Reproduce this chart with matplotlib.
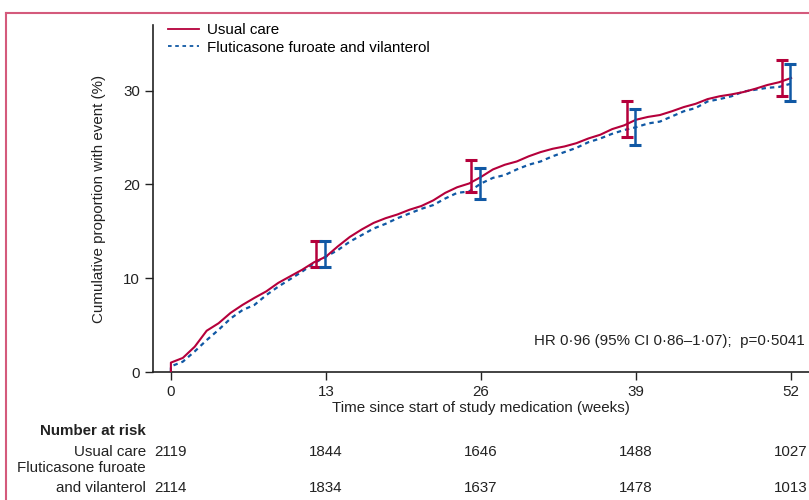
import matplotlib
matplotlib.use("Agg")
import matplotlib.pyplot as plt
import matplotlib.transforms as mtransforms
from matplotlib.lines import Line2D
from matplotlib import font_manager

# ---------------- data ----------------
weeks = [0] + list(range(0, 53))
usual_care = [0.0, 1.0, 1.5, 2.7, 4.4, 5.2, 6.3, 7.15, 7.9, 8.6, 9.5,
              10.2, 10.9, 11.7, 12.3, 13.4, 14.4, 15.2, 15.9, 16.4, 16.8,
              17.3, 17.7, 18.3, 19.1, 19.7, 20.1, 20.8, 21.6, 22.1, 22.45,
              23.0, 23.45, 23.8, 24.05, 24.4, 24.9, 25.3, 25.9, 26.3, 26.9,
              27.2, 27.4, 27.8, 28.25, 28.6, 29.1, 29.4, 29.6, 29.85, 30.2,
              30.6, 30.9, 31.35]
ff_vi = [0.0, 0.6, 1.1, 2.2, 3.4, 4.5, 5.7, 6.6, 7.15, 8.2, 9.1,
         9.9, 10.7, 11.6, 12.3, 13.0, 13.9, 14.6, 15.3, 15.8, 16.4,
         16.9, 17.4, 17.8, 18.5, 19.1, 19.25, 20.1, 20.7, 21.0, 21.6,
         22.1, 22.45, 23.0, 23.45, 23.9, 24.5, 24.9, 25.4, 25.8, 26.1,
         26.5, 26.7, 27.25, 27.8, 28.15, 28.85, 29.1, 29.4, 29.9, 30.1,
         30.3, 30.4, 30.75]

ci_weeks = [13, 26, 39, 52]
uc_ci_low = [11.2, 19.2, 25.1, 29.4]
uc_ci_high = [14.0, 22.6, 28.9, 33.3]
ff_ci_low = [11.2, 18.4, 24.2, 28.9]
ff_ci_high = [14.0, 21.8, 28.0, 32.8]

xticks = [0, 13, 26, 39, 52]
yticks = [0, 10, 20, 30]
risk_uc = ["2119", "1844", "1646", "1488", "1027"]
risk_ff = ["2114", "1834", "1637", "1478", "1013"]

series_names = ["Usual care", "Fluticasone furoate and vilanterol"]
hr_text = "HR 0\u00b796 (95% CI 0\u00b786\u20131\u00b707);  p=0\u00b75041"

# ---------------- style ----------------
avail = {f.name for f in font_manager.fontManager.ttflist}
fam = ["Liberation Sans Narrow", "DejaVu Sans"] if "Liberation Sans Narrow" in avail else ["Liberation Sans", "DejaVu Sans"]
plt.rcParams["font.family"] = fam
FS = 10.9
plt.rcParams["font.size"] = FS

RED = "#b5003b"
BLUE = "#1058a4"
FRAME = "#d45a7c"
TXT = "#222222"

fig = plt.figure(figsize=(8.09, 5.0), dpi=100)
ax = fig.add_axes([153 / 809, 1 - 372 / 500, 1 - 153 / 809, (372 - 25) / 500])

ax.plot(weeks, usual_care, color=RED, lw=1.5, label=series_names[0], zorder=3)
ax.plot(weeks, ff_vi, color=BLUE, lw=1.6, ls=(0, (2.0, 1.8)), label=series_names[1], zorder=2)

def ci_center(lo, hi):
    return [(a + b) / 2 for a, b in zip(lo, hi)]

uc_c = ci_center(uc_ci_low, uc_ci_high)
ff_c = ci_center(ff_ci_low, ff_ci_high)
ax.errorbar([w - 0.8 for w in ci_weeks], uc_c,
            yerr=[[c - l for c, l in zip(uc_c, uc_ci_low)], [h - c for c, h in zip(uc_c, uc_ci_high)]],
            fmt="none", ecolor=RED, elinewidth=1.8, capsize=4.5, capthick=2.2, zorder=4)
ax.errorbar([w - 0.1 for w in ci_weeks], ff_c,
            yerr=[[c - l for c, l in zip(ff_c, ff_ci_low)], [h - c for c, h in zip(ff_c, ff_ci_high)]],
            fmt="none", ecolor=BLUE, elinewidth=1.8, capsize=4.5, capthick=2.2, zorder=4)

ax.set_xlim(-1.5, 53.5)
ax.set_ylim(0, 37)
ax.set_xticks(xticks)
ax.set_yticks(yticks)
ax.tick_params(axis="both", direction="out", length=6, width=1, labelsize=FS, colors=TXT)
ax.tick_params(axis="x", pad=3)
for s in ["top", "right"]:
    ax.spines[s].set_visible(False)
for s in ["left", "bottom"]:
    ax.spines[s].set_linewidth(1.2)
    ax.spines[s].set_color(TXT)

ax.set_ylabel("Cumulative proportion with event (%)", fontsize=FS, color=TXT, labelpad=12)
ax.set_xlabel("Time since start of study medication (weeks)", fontsize=FS, color=TXT, labelpad=2)

handles = [Line2D([0], [0], color=RED, lw=1.3),
           Line2D([0], [0], color=BLUE, lw=1.3, ls=(0, (2, 2)))]
ax.legend(handles, series_names, loc="upper left", bbox_to_anchor=(0.006, 1.035), frameon=False,
          handlelength=2.1, handletextpad=0.5, labelspacing=0.22, fontsize=FS,
          borderaxespad=0.3)

ax.text(0.993, 0.07, hr_text, transform=ax.transAxes, ha="right", va="bottom", fontsize=FS, color=TXT)

# number at risk table
trans = mtransforms.blended_transform_factory(ax.transData, fig.transFigure)
ftrans = fig.transFigure
lab_x = 146 / 809
fig.text(lab_x, 1 - 431 / 500, "Number at risk", ha="right", va="center", fontsize=FS,
         fontweight="bold", color=TXT)
fig.text(lab_x, 1 - 452 / 500, "Usual care", ha="right", va="center", fontsize=FS, color=TXT)
fig.text(lab_x, 1 - 468 / 500, "Fluticasone furoate", ha="right", va="center", fontsize=FS, color=TXT)
fig.text(lab_x, 1 - 488 / 500, "and vilanterol", ha="right", va="center", fontsize=FS, color=TXT)
for w, a, b in zip(xticks, risk_uc, risk_ff):
    ax.text(w, 1 - 452 / 500, a, transform=trans, ha="center", va="center", fontsize=FS,
            color=TXT, clip_on=False)
    ax.text(w, 1 - 488 / 500, b, transform=trans, ha="center", va="center", fontsize=FS,
            color=TXT, clip_on=False)

# pink frame
fig.add_artist(Line2D([6 / 809, 1.0], [1 - 13 / 500, 1 - 13 / 500], transform=ftrans, color=FRAME, lw=1.5))
fig.add_artist(Line2D([6 / 809, 6 / 809], [0, 1 - 13 / 500], transform=ftrans, color=FRAME, lw=1.5))

fig.savefig("out.png", dpi=100)
